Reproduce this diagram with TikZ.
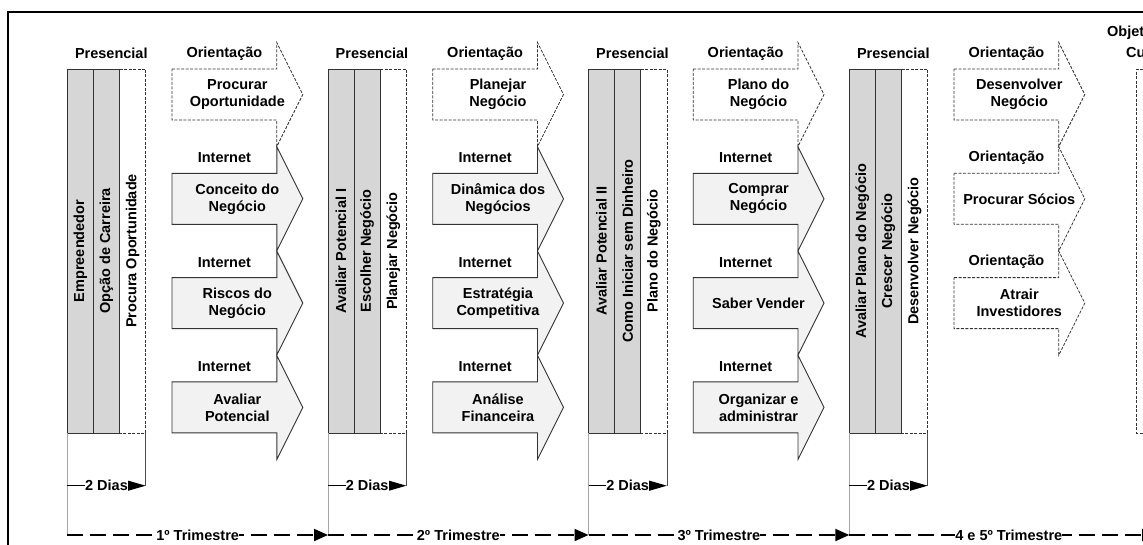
\documentclass[tikz,border=0pt]{standalone}
\usepackage{fontspec}
\setmainfont{Liberation Sans}
\usetikzlibrary{arrows.meta}
\definecolor{colgray}{HTML}{D6D6D6}
\definecolor{arrgray}{HTML}{F2F2F2}
\definecolor{edge}{HTML}{333333}
\tikzset{
  every node/.style={font=\fontsize{14.5}{17}\selectfont\bfseries, inner sep=0pt},
  frame/.style={line width=2pt, draw=black},
  graycol/.style={fill=colgray, draw=edge, line width=0.9pt},
  dashcol/.style={draw=edge, line width=0.8pt, dash pattern=on 3pt off 1.5pt},
  inetarrow/.style={fill=arrgray, draw=edge, line width=0.9pt, line join=miter},
  orarrow/.style={fill=white, draw=edge, line width=0.8pt, dash pattern=on 3pt off 1.5pt},
  arrtext/.style={align=center},
  daysline/.style={line width=1.4pt, -{Triangle[length=18pt,width=10pt]}},
  trimline/.style={line width=2pt, dash pattern=on 16pt off 7pt, -{Triangle[length=14pt,width=12pt]}},
  guide/.style={draw=black!35, line width=0.7pt},
  guidedark/.style={draw=black!70, line width=0.8pt},
  lbl/.style={fill=white, inner xsep=0pt, inner ysep=2pt},
  vtext/.style={rotate=90},
}
% columns of one phase: #1 prefix, #2 x0, #3 #4 #5 texts
\newcommand\phasecols[5]{%
  \filldraw[graycol] (#2,69) rectangle ({#2+26.1},433);
  \filldraw[graycol] ({#2+26.1},69) rectangle ({#2+52.2},433);
  \draw[dashcol] ({#2+52.2},69) -- ({#2+78.4},69) -- ({#2+78.4},433) -- ({#2+52.2},433);
  \node[vtext] (#1a) at ({#2+13.05},251) {#3};
  \node[vtext] (#1b) at ({#2+39.15},251) {#4};
  \node[vtext] (#1c) at ({#2+65.3},251) {#5};
  \node (#1p) at ({#2+44},53) {Presencial};
  \coordinate (#1bl) at (#2,433);
  \coordinate (#1br) at ({#2+78.4},433);
  \coordinate (#1d0) at (#2,485.7);
  \coordinate (#1d1) at ({#2+78.4},485.7);
  \coordinate (#1t) at (#2,535);
  \draw[guide] (#1bl) -- (#1t);
  \draw[guidedark] (#1br) -- (#1d1);
  \draw[daysline] (#1d0) -- node[lbl] (#1days) {2 Dias} (#1d1);
}
% block arrow: #1 name, #2 x0, #3 centre y, #4 style, #5 label, #6 text
\newcommand\barrow[6]{%
  \draw[#4] ({#2+104.7},{#3-25.5}) -- ({#2+209.5},{#3-25.5}) -- ({#2+209.5},{#3-52})
    -- ({#2+235.5},#3) -- ({#2+209.5},{#3+52}) -- ({#2+209.5},{#3+25.5})
    -- ({#2+104.7},{#3+25.5}) -- cycle;
  \node[arrtext] (#1) at ({#2+170},#3) {#6};
  \node (#1l) at ({#2+157.1},{#3-41}) {#5};
}
\begin{document}
\begin{tikzpicture}[x=1pt,y=-1pt]
\useasboundingbox (0,0) rectangle (1143,544);
\clip (0,0) rectangle (1143,544);
\fill[white] (0,0) rectangle (1143,544);
\draw[frame] (8,560) -- (8,12) -- (1170,12);

% phase 1
\phasecols{pa}{67.3}{Empreendedor}{Opção de Carreira}{Procura Oportunidade}
\barrow{pa0}{67.3}{94.5}{orarrow}{Orientação}{Procurar\\Oportunidade}
\barrow{pa1}{67.3}{198.8}{inetarrow}{Internet}{Conceito do\\Negócio}
\barrow{pa2}{67.3}{303.1}{inetarrow}{Internet}{Riscos do\\Negócio}
\barrow{pa3}{67.3}{407.4}{inetarrow}{Internet}{Avaliar\\Potencial}

% phase 2
\phasecols{pb}{328}{Avaliar Potencial I}{Escolher Negócio}{Planejar Negócio}
\barrow{pb0}{328}{94.5}{orarrow}{Orientação}{Planejar\\Negócio}
\barrow{pb1}{328}{198.8}{inetarrow}{Internet}{Dinâmica dos\\Negócios}
\barrow{pb2}{328}{303.1}{inetarrow}{Internet}{Estratégia\\Competitiva}
\barrow{pb3}{328}{407.4}{inetarrow}{Internet}{Análise\\Financeira}

% phase 3
\phasecols{pc}{588.5}{Avaliar Potencial II}{Como Iniciar sem Dinheiro}{Plano do Negócio}
\barrow{pc0}{588.5}{94.5}{orarrow}{Orientação}{Plano do\\Negócio}
\barrow{pc1}{588.5}{198.8}{inetarrow}{Internet}{Comprar\\Negócio}
\barrow{pc2}{588.5}{303.1}{inetarrow}{Internet}{Saber Vender}
\barrow{pc3}{588.5}{407.4}{inetarrow}{Internet}{Organizar e\\administrar}

% phase 4
\phasecols{pd}{849.3}{Avaliar Plano do Negócio}{Crescer Negócio}{Desenvolver Negócio}
\barrow{pd0}{849.3}{94.5}{orarrow}{Orientação}{Desenvolver\\Negócio}
\barrow{pd1}{849.3}{198.8}{orarrow}{Orientação}{Procurar Sócios}
\barrow{pd2}{849.3}{303.1}{orarrow}{Orientação}{Atrair\\Investidores}

% phase 5 (cut off at the right edge)
\draw[dashcol] (1170,69) -- (1136.7,69) -- (1136.7,433) -- (1170,433);
\node (obj1) at (1147,33) {Objetivo do};
\node (obj2) at (1147,53) {Curso};
\coordinate (pet) at (1156,535);

% trimester lines
\draw[trimline] (pat) -- node[lbl] (tri1) {1º Trimestre} (pbt);
\draw[trimline] (pbt) -- node[lbl] (tri2) {2º Trimestre} (pct);
\draw[trimline] (pct) -- node[lbl] (tri3) {3º Trimestre} (pdt);
\draw[trimline] (pdt) -- node[lbl, pos=0.52] (tri4) {4 e 5º Trimestre} (pet);
\end{tikzpicture}
\end{document}
